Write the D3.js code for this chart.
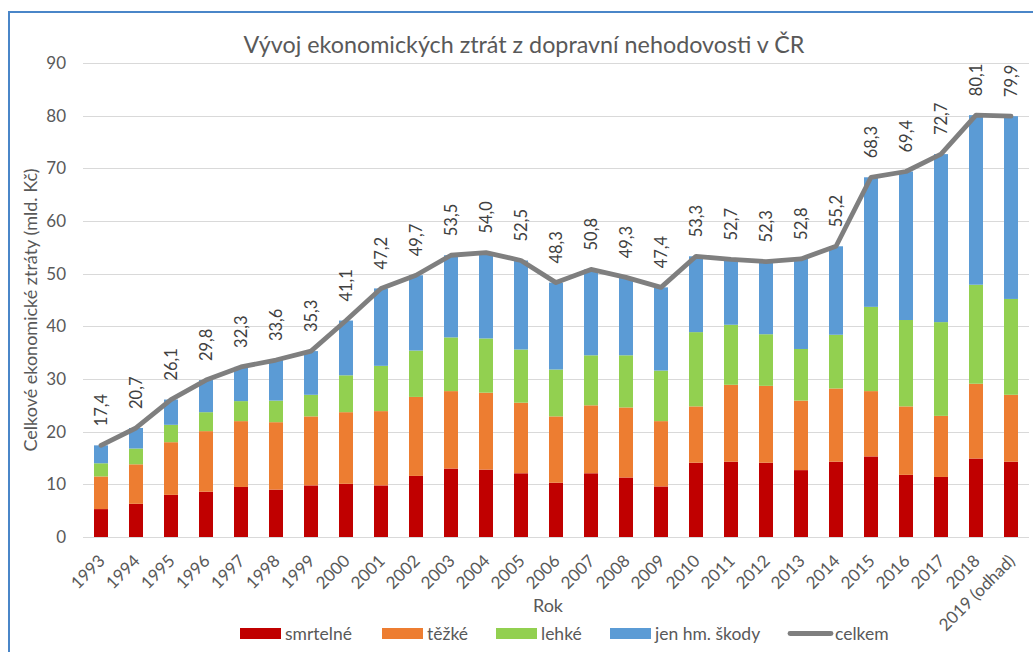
<!DOCTYPE html>
<html>
<head>
<meta charset="utf-8">
<script src="https://cdn.jsdelivr.net/npm/d3@7"></script>
<style>
  html, body { margin: 0; padding: 0; background: #fff; }
  svg { display: block; font-family: Lato, "Liberation Sans", sans-serif; }
</style>
</head>
<body>
<svg id="chart" width="1033" height="652"></svg>
<script>
const years = ["1993","1994","1995","1996","1997","1998","1999","2000","2001","2002","2003","2004","2005","2006","2007","2008","2009","2010","2011","2012","2013","2014","2015","2016","2017","2018","2019 (odhad)"];
const smrtelne = [5.3,6.3,8.0,8.6,9.5,9.0,9.8,10.1,9.8,11.6,13.0,12.8,12.1,10.3,12.1,11.3,9.6,14.1,14.3,14.1,12.7,14.3,15.3,11.8,11.4,14.9,14.3];
const tezke    = [6.2,7.5,10.0,11.5,12.5,12.8,13.1,13.6,14.1,15.0,14.7,14.6,13.4,12.6,12.9,13.3,12.4,10.7,14.6,14.6,13.2,13.9,12.4,13.0,11.6,14.2,12.7];
const lehke    = [2.5,3.0,3.3,3.6,3.8,4.1,4.1,7.0,8.6,8.8,10.2,10.3,10.1,8.9,9.5,9.9,9.6,14.1,11.4,9.8,9.8,10.2,16.0,16.4,17.8,18.8,18.2];
const jenHm    = [3.4,3.9,4.8,6.1,6.5,7.7,8.3,10.4,14.7,14.3,15.6,16.3,16.9,16.5,16.3,14.8,15.8,14.4,12.4,13.8,17.1,16.8,24.6,28.2,31.9,32.2,34.7];
const celkem   = [17.4,20.7,26.1,29.8,32.3,33.6,35.3,41.1,47.2,49.7,53.5,54.0,52.5,48.3,50.8,49.3,47.4,53.3,52.7,52.3,52.8,55.2,68.3,69.4,72.7,80.1,79.9];
const celkemLabels = ["17,4","20,7","26,1","29,8","32,3","33,6","35,3","41,1","47,2","49,7","53,5","54,0","52,5","48,3","50,8","49,3","47,4","53,3","52,7","52,3","52,8","55,2","68,3","69,4","72,7","80,1","79,9"];
const yTicks = [0,10,20,30,40,50,60,70,80,90];
const seriesNames = ["smrtelné","těžké","lehké","jen hm. škody"];
const seriesColors = ["#c00000","#ed7d31","#92d050","#5b9bd5"];
const lineName = "celkem";
const lineColor = "#7f7f7f";
const titleText = "Vývoj ekonomických ztrát z dopravní nehodovosti v ČR";
const yTitle = "Celkové ekonomické ztráty (mld. Kč)";
const xTitle = "Rok";

const textColor = "#595959";
const svg = d3.select("#chart");

// frame
svg.append("rect").attr("x", 9).attr("y", 12).attr("width", 1100).attr("height", 700)
  .attr("fill", "none").attr("stroke", "#4a86c8").attr("stroke-width", 2);

const rows = years.map((y, i) => ({year: y, s0: smrtelne[i], s1: tezke[i], s2: lehke[i], s3: jenHm[i]}));
const keys = ["s0","s1","s2","s3"];
const stack = d3.stack().keys(keys)(rows);

const x = d3.scaleBand().domain(years).range([83.5, 1028.5]).paddingInner(0.6).paddingOuter(0.3);
const y = d3.scaleLinear().domain([0, 90]).range([537, 63]);

// gridlines
svg.append("g").selectAll("line").data(yTicks).join("line")
  .attr("x1", 83).attr("x2", 1029)
  .attr("y1", d => Math.round(y(d)) + 0.5).attr("y2", d => Math.round(y(d)) + 0.5)
  .attr("stroke", "#d9d9d9").attr("stroke-width", 1);

// y axis labels
const yAxis = d3.axisLeft(y).tickValues(yTicks).tickSize(0).tickPadding(0);
const yg = svg.append("g").attr("transform", "translate(66,0)").call(yAxis);
yg.select(".domain").remove();
yg.selectAll("text").attr("fill", textColor).style("font-size", "17px").style("font-family", "Lato");

// bars
svg.append("g").selectAll("g").data(stack).join("g")
  .attr("fill", (d, i) => seriesColors[i])
  .selectAll("rect").data(d => d).join("rect")
  .attr("x", d => x(d.data.year))
  .attr("width", x.bandwidth())
  .attr("y", d => y(d[1]))
  .attr("height", d => y(d[0]) - y(d[1]));

// line
const cx = d => x(d) + x.bandwidth() / 2;
const line = d3.line().x((d, i) => cx(years[i])).y(d => y(d));
svg.append("path").datum(celkem).attr("d", line)
  .attr("fill", "none").attr("stroke", lineColor).attr("stroke-width", 4.8)
  .attr("stroke-linejoin", "round").attr("stroke-linecap", "round");

// value labels
svg.append("g").selectAll("text").data(celkem).join("text")
  .attr("transform", (d, i) => `translate(${cx(years[i])},${y(d) - 19}) rotate(-90)`)
  .attr("dy", "0.35em")
  .attr("fill", "#404040")
  .style("font-size", "16.5px")
  .text((d, i) => celkemLabels[i]);

// x axis labels
const xAxis = d3.axisBottom(x).tickSize(0).tickPadding(0);
const xg = svg.append("g").attr("transform", "translate(0,537)").call(xAxis);
xg.select(".domain").remove();
xg.selectAll(".tick text")
  .attr("fill", textColor).style("font-size", "17px").style("font-family", "Lato")
  .attr("text-anchor", "end").attr("dy", null).attr("y", null)
  .attr("transform", "translate(5,25) rotate(-45)");

// title
svg.append("text").attr("x", 524).attr("y", 53).attr("text-anchor", "middle")
  .attr("fill", textColor).style("font-size", "23.3px").text(titleText);

// y title
svg.append("text").attr("transform", "translate(37,310) rotate(-90)").attr("text-anchor", "middle")
  .attr("fill", textColor).style("font-size", "18px").text(yTitle);

// x title
svg.append("text").attr("x", 548).attr("y", 612).attr("text-anchor", "middle")
  .attr("fill", textColor).style("font-size", "18px").text(xTitle);

// legend
const legendItems = [
  {name: seriesNames[0], color: seriesColors[0], x: 240, type: "rect"},
  {name: seriesNames[1], color: seriesColors[1], x: 382, type: "rect"},
  {name: seriesNames[2], color: seriesColors[2], x: 496, type: "rect"},
  {name: seriesNames[3], color: seriesColors[3], x: 610, type: "rect"},
  {name: lineName, color: lineColor, x: 790, type: "line"}
];
const lg = svg.append("g");
legendItems.forEach(it => {
  if (it.type === "rect") {
    lg.append("rect").attr("x", it.x).attr("y", 628).attr("width", 41).attr("height", 11).attr("fill", it.color);
  } else {
    lg.append("line").attr("x1", it.x).attr("x2", it.x + 41).attr("y1", 633.5).attr("y2", 633.5)
      .attr("stroke", it.color).attr("stroke-width", 4.8).attr("stroke-linecap", "round");
  }
  lg.append("text").attr("x", it.x + 45).attr("y", 640).attr("fill", textColor)
    .style("font-size", "17.5px").text(it.name);
});
</script>
</body>
</html>
